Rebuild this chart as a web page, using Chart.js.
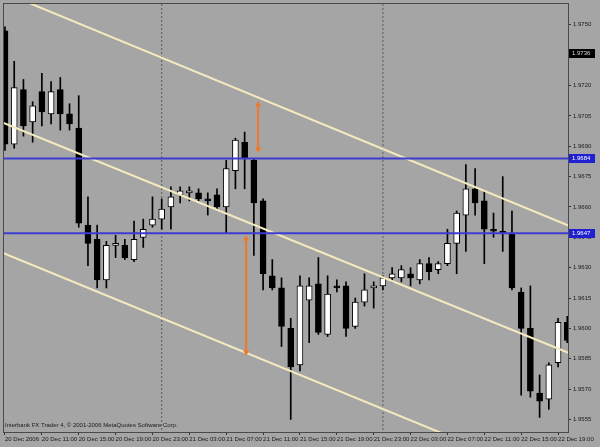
<!DOCTYPE html>
<html><head><meta charset="utf-8">
<script src="https://cdn.jsdelivr.net/npm/chart.js@4.4.0/dist/chart.umd.min.js"></script>
<style>html,body{margin:0;padding:0;background:#a5a5a5;overflow:hidden}#wrap{width:600px;height:447px;position:relative}</style>
</head><body><div id="wrap"><canvas id="c" width="600" height="447"></canvas></div>
<script>
// ---- data (GBPUSD H1, 20 Dec 2006 07:00 -> 22 Dec 2006 20:00) ----
const timeLabels = ["20 Dec 2006","20 Dec 11:00","20 Dec 15:00","20 Dec 19:00","20 Dec 23:00",
  "21 Dec 03:00","21 Dec 07:00","21 Dec 11:00","21 Dec 15:00","21 Dec 19:00","21 Dec 23:00",
  "22 Dec 03:00","22 Dec 07:00","22 Dec 11:00","22 Dec 15:00","22 Dec 19:00"];
const timeTickIndex = [0,4,8,12,16,20,24,28,32,36,40,44,48,52,56,60];
const opens  = [1.9747,1.9691,1.9718,1.9702,1.9717,1.9706,1.9718,1.9706,1.9699,1.9651,
                1.9644,1.9624,1.9641,1.9641,1.9634,1.9645,1.9651,1.9654,1.9660,1.9666,
                1.9667,1.9667,1.9664,1.9666,1.9660,1.9678,1.9692,1.9683,1.9663,1.9626,
                1.9620,1.9600,1.9582,1.9614,1.9622,1.9597,1.9621,1.9621,1.9601,1.9613,
                1.9620,1.9621,1.9625,1.9625,1.9627,1.9624,1.9632,1.9629,1.9632,1.9642,
                1.9656,1.9669,1.9663,1.9649,1.9648,1.9647,1.9618,1.9600,1.9568,1.9565,
                1.9583,1.9603];
const highs  = [1.9749,1.9732,1.9723,1.9712,1.9726,1.9722,1.9724,1.9711,1.9715,1.9665,
                1.9651,1.9643,1.9646,1.9644,1.9653,1.9654,1.9665,1.9664,1.9670,1.9670,
                1.9670,1.9669,1.9667,1.9669,1.9683,1.9694,1.9697,1.9684,1.9664,1.9634,
                1.9625,1.9605,1.9626,1.9625,1.9635,1.9626,1.9624,1.9623,1.9615,1.9627,
                1.9623,1.9626,1.9630,1.9631,1.9630,1.9634,1.9635,1.9633,1.9649,1.9658,
                1.9681,1.9679,1.9668,1.9657,1.9675,1.9658,1.9620,1.9621,1.9577,1.9583,
                1.9605,1.9606];
const lows   = [1.9688,1.9689,1.9695,1.9692,1.9700,1.9701,1.9698,1.9698,1.9650,1.9631,
                1.9620,1.9620,1.9635,1.9634,1.9633,1.9640,1.9650,1.9649,1.9649,1.9662,
                1.9663,1.9663,1.9656,1.9659,1.9647,1.9669,1.9669,1.9636,1.9619,1.9619,
                1.9591,1.9555,1.9579,1.9593,1.9597,1.9596,1.9618,1.9596,1.9600,1.9611,
                1.9610,1.9619,1.9623,1.9623,1.9621,1.9622,1.9624,1.9627,1.9631,1.9627,
                1.9638,1.9656,1.9632,1.9645,1.9638,1.9619,1.9567,1.9566,1.9556,1.9560,
                1.9581,1.9593];
const closes = [1.9691,1.9719,1.9700,1.9710,1.9707,1.9717,1.9706,1.9701,1.9652,1.9642,
                1.9624,1.9641,1.9642,1.9635,1.9644,1.9649,1.9654,1.9659,1.9665,1.9668,
                1.9668,1.9664,1.9663,1.9660,1.9679,1.9693,1.9684,1.9662,1.9627,1.9620,
                1.9601,1.9581,1.9621,1.9621,1.9598,1.9617,1.9620,1.9600,1.9613,1.9619,
                1.9621,1.9625,1.9627,1.9629,1.9625,1.9632,1.9628,1.9632,1.9642,1.9657,
                1.9669,1.9662,1.9649,1.9648,1.9647,1.9620,1.9600,1.9569,1.9564,1.9582,
                1.9603,1.9594];
const priceTicks = [1.9555,1.9570,1.9585,1.9600,1.9615,1.9630,1.9645,1.9660,1.9675,1.9690,1.9705,1.9720,1.9735,1.9750];
const channelX      = [-1, 62];
const channelUpper  = [1.97676, 1.96492];
const channelMiddle = [1.97031, 1.95863];
const channelLower  = [1.96387, 1.95209];
const levelPrices = [1.9684, 1.9647];
const markerPrice = 1.9736;
const arrowUpperX = 27.46, arrowUpperY = [1.97106, 1.96885];
const arrowLowerX = 26.16, arrowLowerY = [1.96443, 1.95882];
const separatorIdx = [17, 41];
const yMin = 1.95488, yMax = 1.97603;
const copyright = "Interbank FX Trader 4, \u00A9 2001-2006 MetaQuotes Software Corp.";

const FONT = "'Liberation Sans', Arial, sans-serif";
const bg = '#a5a5a5';

const bodies = opens.map((o,i)=>({x:i, y:[o, closes[i]]}));
const wicks = lows.map((l,i)=>({x:i, y:[l, highs[i]]}));
const bodyColors = opens.map((o,i)=> closes[i] >= o ? '#ffffff' : '#000000');

function hline(p){ return channelX.map(x=>({x, y:p})); }
function vline(x){ return [{x, y:yMax},{x, y:yMin}]; }

const datasets = [
  {type:'bar', label:'wick', data:wicks, backgroundColor:'#000', borderWidth:0, barThickness:1, grouped:false, order:5},
  {type:'bar', label:'body', data:bodies, backgroundColor:bodyColors, borderColor:'#000', borderWidth:1, borderSkipped:false, barThickness:6, grouped:false, order:4},
];
separatorIdx.forEach(s=>datasets.push({type:'line', data:vline(s), borderColor:'#5a5a5a', borderWidth:1, borderDash:[2,2], pointRadius:0, order:6}));
[channelUpper, channelMiddle, channelLower].forEach(c=>datasets.push({type:'line', data:channelX.map((x,k)=>({x, y:c[k]})), borderColor:'#f3eabf', borderWidth:2, pointRadius:0, order:2}));
levelPrices.forEach(p=>datasets.push({type:'line', data:hline(p), borderColor:'#3c3cd2', borderWidth:2, pointRadius:0, order:1}));
[[arrowUpperX, arrowUpperY],[arrowLowerX, arrowLowerY]].forEach(([x,ys])=>datasets.push({type:'line',
  data:ys.map(y=>({x,y})), borderColor:'#f07828', borderWidth:2, pointRadius:3.5, pointStyle:'triangle',
  pointRotation:[0,180], pointBackgroundColor:'#f07828', pointBorderColor:'#f07828', pointBorderWidth:0, order:0}));

const decor = {
  id:'decor',
  beforeDraw(chart){
    const ctx = chart.ctx; ctx.save(); ctx.fillStyle = bg; ctx.fillRect(0,0,chart.width,chart.height); ctx.restore();
  },
  afterDatasetsDraw(chart){
    const ctx = chart.ctx, a = chart.chartArea, y = chart.scales.y;
    ctx.save();
    ctx.strokeStyle = '#4a4a4a'; ctx.lineWidth = 1;
    ctx.strokeRect(Math.round(a.left)-0.5, Math.round(a.top)-0.5, Math.round(a.right-a.left)+1, Math.round(a.bottom-a.top)+1);
    ctx.font = '6px ' + FONT; ctx.textBaseline = 'middle'; ctx.textAlign = 'left';
    ctx.fillStyle = '#1a1a1a';
    ctx.fillText(copyright, a.left + 1, a.bottom - 7);
    const boxes = [[markerPrice,'#000000','#d8d8d8']].concat(levelPrices.map(p=>[p,'#2020d0','#ffffff']));
    boxes.forEach(([p, fill, txt])=>{
      const py = Math.round(y.getPixelForValue(p));
      ctx.fillStyle = fill; ctx.fillRect(a.right+1, py-4, 26, 9);
      ctx.fillStyle = txt; ctx.fillText(p.toFixed(4), a.right+4, py+0.5);
    });
    ctx.restore();
  }
};

new Chart(document.getElementById('c'), {
  data:{datasets},
  options:{
    responsive:false, animation:false, devicePixelRatio:1,
    layout:{padding:{left:2, top:2, right:0, bottom:0}},
    plugins:{legend:{display:false}, tooltip:{enabled:false}},
    scales:{
      x:{type:'linear', offset:false, min:-0.108, max:61.08,
        afterBuildTicks:s=>{ s.ticks = timeTickIndex.map(v=>({value:v})); },
        afterFit:s=>{ s.height = 15; s.paddingLeft = 0; s.paddingRight = 0; s.paddingTop = 0; s.paddingBottom = 0; },
        ticks:{autoSkip:false, maxRotation:0, minRotation:0, align:'start', padding:1,
          font:{size:6, family:FONT}, color:'#1a1a1a', callback:(v,i)=>timeLabels[i]},
        grid:{offset:false, drawOnChartArea:false, drawTicks:true, tickLength:3, color:'#333'},
        border:{display:true, color:'#4a4a4a'}},
      y:{position:'right', min:yMin, max:yMax,
        afterBuildTicks:s=>{ s.ticks = priceTicks.map(v=>({value:v})); },
        afterFit:s=>{ s.width = 32; s.paddingTop = 0; s.paddingBottom = 0; s.paddingLeft = 0; s.paddingRight = 0; },
        ticks:{font:{size:6, family:FONT}, color:'#1a1a1a', padding:2, callback:v=>Number(v).toFixed(4)},
        grid:{drawOnChartArea:false, drawTicks:true, tickLength:3, color:'#333'},
        border:{display:true, color:'#4a4a4a'}}
    }
  },
  plugins:[decor]
});
</script></body></html>
